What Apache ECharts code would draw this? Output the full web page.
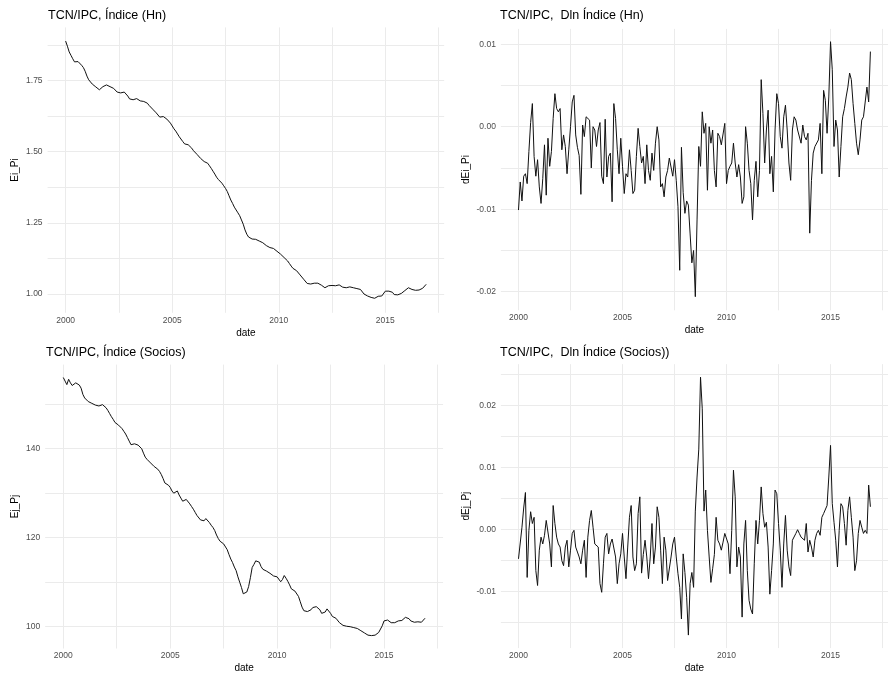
<!DOCTYPE html>
<html><head><meta charset="utf-8">
<script src="https://cdn.jsdelivr.net/npm/echarts@6/dist/echarts.min.js"></script>
<style>html,body{margin:0;padding:0;background:#fff}#c{width:888px;height:680px}</style>
</head><body><div id="c"></div>
<script>
// Monthly series, Jan 2000 - Dec 2016
const startYear = 2000;

const hnLevel = [
1.888,1.870,1.850,1.838,1.826,1.815,1.812,1.816,1.812,1.803,1.795,1.782,
1.765,1.752,1.745,1.737,1.733,1.727,1.722,1.717,1.722,1.728,1.733,1.734,
1.730,1.728,1.725,1.722,1.716,1.709,1.703,1.706,1.711,1.709,1.703,1.695,
1.685,1.681,1.682,1.683,1.686,1.682,1.678,1.676,1.676,1.674,1.670,1.662,
1.655,1.649,1.642,1.636,1.630,1.621,1.615,1.623,1.620,1.614,1.609,1.600,
1.590,1.580,1.572,1.562,1.552,1.545,1.535,1.527,1.525,1.524,1.519,1.512,
1.503,1.496,1.490,1.483,1.476,1.470,1.465,1.461,1.459,1.450,1.441,1.431,
1.421,1.410,1.402,1.396,1.389,1.380,1.371,1.360,1.345,1.330,1.318,1.305,
1.295,1.285,1.275,1.260,1.245,1.225,1.210,1.200,1.196,1.193,1.194,1.192,
1.190,1.186,1.182,1.180,1.176,1.170,1.166,1.163,1.161,1.160,1.157,1.150,
1.145,1.140,1.134,1.128,1.122,1.116,1.107,1.098,1.090,1.087,1.082,1.075,
1.067,1.060,1.052,1.045,1.037,1.032,1.035,1.041,1.038,1.036,1.038,1.036,
1.031,1.025,1.022,1.025,1.029,1.032,1.030,1.028,1.029,1.031,1.032,1.029,
1.024,1.021,1.022,1.024,1.025,1.023,1.022,1.021,1.019,1.018,1.016,1.010,
1.000,0.996,0.993,0.990,0.988,0.986,0.985,0.988,0.992,0.995,0.993,1.000,
1.010,1.013,1.010,1.012,1.006,0.998,0.996,0.997,0.999,1.002,1.007,1.012,
1.018,1.022,1.020,1.016,1.014,1.013,1.012,1.014,1.016,1.020,1.026,1.034
];

const hnDiff = [
-0.0101,-0.0067,-0.0090,-0.0060,-0.0057,-0.0069,-0.0030,0.0005,0.0028,-0.0036,-0.0060,-0.0040,
-0.0073,-0.0093,-0.0063,-0.0022,-0.0083,-0.0014,-0.0048,-0.0030,0.0010,0.0040,0.0022,0.0018,
0.0022,-0.0028,-0.0010,-0.0024,-0.0057,-0.0028,0.0000,0.0030,0.0038,-0.0010,-0.0025,-0.0035,
-0.0082,0.0002,-0.0012,0.0012,0.0013,0.0008,-0.0050,0.0000,-0.0004,-0.0024,-0.0004,0.0005,
-0.0060,-0.0069,0.0009,-0.0061,-0.0036,-0.0032,-0.0091,0.0028,0.0010,-0.0028,-0.0057,-0.0014,
-0.0048,-0.0081,-0.0057,-0.0061,-0.0028,-0.0053,-0.0081,-0.0077,-0.0036,-0.0002,-0.0024,-0.0044,
-0.0036,-0.0069,-0.0022,-0.0053,-0.0065,-0.0032,-0.0053,-0.0020,0.0000,-0.0016,-0.0073,-0.0069,
-0.0085,-0.0061,-0.0053,-0.0038,-0.0040,-0.0060,-0.0040,-0.0065,-0.0097,-0.0174,-0.0025,-0.0080,
-0.0105,-0.0090,-0.0095,-0.0130,-0.0165,-0.0150,-0.0206,-0.0113,-0.0024,-0.0048,0.0018,-0.0008,
0.0004,-0.0077,0.0000,-0.0020,-0.0004,-0.0053,-0.0073,-0.0008,-0.0012,-0.0022,-0.0022,0.0004,
-0.0069,-0.0053,-0.0048,-0.0044,-0.0020,-0.0044,-0.0061,-0.0046,-0.0061,-0.0093,-0.0085,0.0000,
-0.0020,-0.0053,-0.0069,-0.0113,-0.0065,-0.0042,-0.0085,-0.0053,0.0057,0.0016,-0.0044,-0.0004,
0.0020,-0.0057,-0.0036,-0.0079,-0.0004,0.0040,0.0028,-0.0012,-0.0026,0.0012,0.0026,-0.0004,
-0.0044,-0.0065,-0.0004,0.0012,0.0008,-0.0004,-0.0002,-0.0020,0.0002,-0.0012,-0.0016,-0.0008,
-0.0129,-0.0065,-0.0032,-0.0024,-0.0022,-0.0016,0.0004,-0.0057,0.0044,0.0032,-0.0008,0.0036,
0.0103,0.0069,-0.0024,0.0008,-0.0004,-0.0061,-0.0024,0.0012,0.0022,0.0036,0.0048,0.0065,
0.0057,0.0028,0.0004,-0.0020,-0.0034,-0.0016,0.0008,0.0012,0.0010,0.0048,0.0030,0.0091
];

const socLevel = [
156.0,155.2,154.4,155.6,154.8,154.2,154.5,154.8,154.9,154.3,153.6,152.2,
151.4,151.0,150.6,150.5,150.2,150.4,149.8,149.5,149.6,150.0,149.9,149.5,
149.2,148.6,147.9,147.2,146.6,145.9,145.6,145.3,145.1,144.5,143.9,143.3,
142.5,141.7,140.9,140.6,141.1,141.2,140.8,140.5,140.0,139.0,138.1,137.6,
137.3,136.8,136.5,136.0,135.7,135.4,134.9,134.2,133.3,132.3,132.0,131.8,
131.3,130.5,130.0,130.3,130.5,129.6,128.9,128.2,128.0,128.6,128.3,127.6,
127.0,126.4,125.7,125.0,124.6,124.0,123.6,123.8,124.3,124.0,123.4,122.8,
122.3,121.6,120.6,119.8,119.2,118.8,118.6,118.2,117.3,116.2,115.2,114.4,
113.4,112.6,111.2,110.0,108.8,107.4,107.1,107.8,109.0,111.0,113.3,114.0,
114.8,115.1,114.5,113.5,112.9,112.7,112.5,112.2,112.0,111.7,111.4,111.3,
111.2,110.8,110.1,110.6,111.5,110.9,110.2,109.4,108.5,108.2,108.0,107.9,
106.8,105.6,104.4,103.6,103.5,103.4,103.3,103.8,104.3,104.4,104.5,104.4,
103.8,103.0,102.6,103.3,104.0,103.8,103.0,102.3,102.1,101.9,101.6,100.9,
100.5,100.3,100.2,100.1,100.1,100.0,99.9,99.8,99.7,99.6,99.4,99.1,
98.8,98.6,98.3,98.1,98.0,98.0,98.0,98.1,98.4,98.7,99.0,100.2,
101.3,101.4,101.5,101.4,100.9,100.6,100.9,101.2,101.3,101.2,101.4,101.7,
102.1,102.3,101.8,101.3,101.0,101.0,101.1,101.1,101.1,101.0,101.2,101.9
];

const socDiff = [
-0.0047,-0.0048,0.0004,0.0035,0.0060,-0.0077,-0.0001,0.0029,0.0010,0.0020,-0.0066,-0.0090,
-0.0033,-0.0012,-0.0023,-0.0009,0.0015,0.0012,-0.0023,-0.0060,0.0039,0.0010,-0.0012,-0.0023,
-0.0028,-0.0050,-0.0058,-0.0028,-0.0017,-0.0060,-0.0033,-0.0006,-0.0001,-0.0028,-0.0036,-0.0044,
-0.0055,-0.0033,-0.0017,-0.0077,-0.0012,0.0015,0.0031,0.0004,-0.0023,-0.0023,-0.0028,-0.0087,
-0.0101,-0.0055,-0.0012,-0.0006,-0.0039,-0.0023,-0.0015,-0.0015,-0.0044,-0.0087,-0.0055,-0.0039,
-0.0006,-0.0044,-0.0079,-0.0028,0.0020,0.0039,-0.0044,-0.0066,-0.0055,0.0026,0.0053,-0.0070,
-0.0040,-0.0017,-0.0044,-0.0079,-0.0044,0.0010,-0.0055,-0.0028,0.0037,0.0020,-0.0033,-0.0087,
-0.0012,-0.0033,-0.0082,-0.0085,-0.0044,-0.0023,-0.0012,-0.0044,-0.0071,-0.0093,-0.0144,-0.0039,
-0.0069,-0.0109,-0.0170,-0.0087,-0.0069,-0.0093,0.0030,0.0085,0.0130,0.0246,0.0195,0.0030,
0.0064,-0.0001,-0.0044,-0.0085,-0.0063,-0.0040,0.0020,-0.0017,-0.0023,-0.0033,-0.0020,-0.0006,
-0.0006,-0.0023,-0.0071,-0.0001,0.0096,0.0053,-0.0060,-0.0028,-0.0044,-0.0141,-0.0023,0.0015,
-0.0066,-0.0114,-0.0128,-0.0136,-0.0055,0.0015,-0.0023,0.0015,0.0069,0.0026,0.0004,0.0012,
-0.0028,-0.0104,-0.0066,-0.0023,0.0064,0.0058,0.0010,-0.0033,-0.0093,-0.0023,0.0023,-0.0033,
-0.0060,-0.0074,-0.0017,-0.0015,-0.0006,0.0000,-0.0006,-0.0012,-0.0012,-0.0017,0.0010,-0.0036,
-0.0017,-0.0028,-0.0044,-0.0017,-0.0006,-0.0001,-0.0009,0.0020,0.0026,0.0029,0.0039,0.0085,
0.0136,0.0042,0.0012,-0.0017,-0.0060,-0.0001,0.0042,0.0037,0.0010,-0.0025,0.0031,0.0053,
0.0020,-0.0012,-0.0066,-0.0050,-0.0006,0.0015,0.0004,-0.0006,-0.0001,-0.0006,0.0072,0.0037
];

const xTickLabels = [2000, 2005, 2010, 2015];
const xGridValues = [2000, 2002.5, 2005, 2007.5, 2010, 2012.5, 2015, 2017.5];

const titles = ['TCN/IPC, Índice (Hn)', 'TCN/IPC,  Dln Índice (Hn)', 'TCN/IPC, Índice (Socios)', 'TCN/IPC,  Dln Índice (Socios))'];
const yNames = ['Ei_Pi', 'dEi_Pi', 'Ej_Pj', 'dEj_Pj'];
const yLabelTicks = [
  [1.00, 1.25, 1.50, 1.75],
  [-0.02, -0.01, 0, 0.01],
  [100, 120, 140],
  [-0.01, 0, 0.01, 0.02]
];
const yGridTicks = [
  [1.0, 1.125, 1.25, 1.375, 1.5, 1.625, 1.75, 1.875],
  [-0.02, -0.015, -0.01, -0.005, 0, 0.005, 0.01],
  [100, 110, 120, 130, 140, 150],
  [-0.015, -0.01, -0.005, 0, 0.005, 0.01, 0.015, 0.02, 0.025]
];
const seriesList = [hnLevel, hnDiff, socLevel, socDiff];

// layout (pixels) and axis ranges
const layout = [
  {grid: {left: 47.6, top: 27.4, width: 396.6, height: 285.4}, yRange: [0.934, 1.936], nameGap: 27, titlePos: [48, 9], dec: 2},
  {grid: {left: 500.9, top: 28.9, width: 392, height: 281.4}, yRange: [-0.02225, 0.01185], nameGap: 30, titlePos: [500, 9], dec: 2},
  {grid: {left: 45.2, top: 364.6, width: 397.9, height: 283.9}, yRange: [95.1, 158.9], nameGap: 25, titlePos: [46, 346], dec: 0},
  {grid: {left: 500.9, top: 364.2, width: 392, height: 283.9}, yRange: [-0.0191, 0.0267], nameGap: 30, titlePos: [500, 346], dec: 2}
];

const n = hnLevel.length;
const span = (n - 1) / 12;
const xMin = startYear - 0.05 * span, xMax = startYear + span + 0.05 * span;

const FONT = '"Liberation Sans", Arial, Helvetica, sans-serif';
const gridColor = '#ebebeb';

const option = {
  animation: false,
  backgroundColor: '#ffffff',
  textStyle: {fontFamily: FONT},
  title: titles.map((t, i) => ({
    text: t, left: layout[i].titlePos[0], top: layout[i].titlePos[1], padding: 0,
    textStyle: {fontFamily: FONT, fontSize: 12.5, fontWeight: 'normal', color: '#000'}
  })),
  grid: layout.map(l => Object.assign({containLabel: false}, l.grid)),
  xAxis: layout.map((l, i) => ({
    type: 'value', gridIndex: i, min: xMin, max: xMax,
    name: 'date', nameLocation: 'middle', nameGap: 15,
    nameTextStyle: {fontFamily: FONT, fontSize: 10, color: '#000'},
    axisLine: {show: false},
    axisTick: {show: false, customValues: xGridValues},
    axisLabel: {customValues: xTickLabels, margin: 3, fontSize: 8.5, color: '#4d4d4d', fontFamily: FONT,
      formatter: v => String(Math.round(v))},
    splitLine: {show: true, lineStyle: {color: gridColor, width: 1}}
  })),
  yAxis: layout.map((l, i) => ({
    type: 'value', gridIndex: i, min: l.yRange[0], max: l.yRange[1],
    name: yNames[i], nameLocation: 'middle', nameGap: l.nameGap, nameRotate: 90,
    nameTextStyle: {fontFamily: FONT, fontSize: 10, color: '#000'},
    axisLine: {show: false},
    axisTick: {show: false, customValues: yGridTicks[i]},
    axisLabel: {customValues: yLabelTicks[i], margin: 5, fontSize: 8.5, color: '#4d4d4d', fontFamily: FONT,
      formatter: v => l.dec ? Number(v).toFixed(l.dec) : String(Math.round(v))},
    splitLine: {show: true, lineStyle: {color: gridColor, width: 1}}
  })),
  series: seriesList.map((arr, i) => ({
    type: 'line', xAxisIndex: i, yAxisIndex: i, showSymbol: false, symbol: 'none',
    lineStyle: {color: '#111111', width: 1}, silent: true,
    data: arr.map((v, k) => [startYear + k / 12, v])
  }))
};

const chart = echarts.init(document.getElementById('c'), null, {renderer: 'canvas'});
chart.setOption(option);
</script>
</body></html>
